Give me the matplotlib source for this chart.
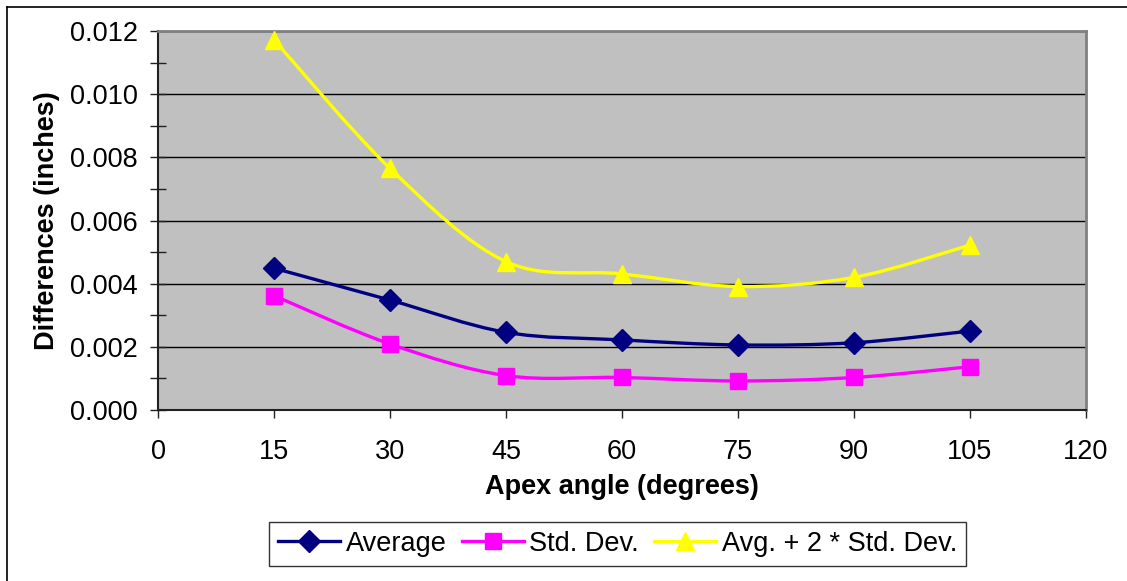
import matplotlib
matplotlib.use('Agg')
import matplotlib.pyplot as plt
from matplotlib.path import Path
from matplotlib.patches import PathPatch
from matplotlib.lines import Line2D
from matplotlib.ticker import MultipleLocator, FormatStrFormatter

plt.rcParams['font.family'] = ['Liberation Sans', 'DejaVu Sans']

angles = [15, 30, 45, 60, 75, 90, 105]
average = [0.00449, 0.00348, 0.00246, 0.00222, 0.00206, 0.00213, 0.00250]
std_dev = [0.00362, 0.00209, 0.00109, 0.00103, 0.00092, 0.00103, 0.00137]
avg_2sd = [0.01172, 0.00765, 0.00470, 0.00431, 0.00391, 0.00420, 0.00522]

series_names = ['Average', 'Std. Dev.', 'Avg. + 2 * Std. Dev.']


def smooth_path(xs, ys):
    # cubic bezier through every point, catmull-rom style tangents
    pts = list(zip(xs, ys))
    n = len(pts)
    verts = [pts[0]]
    codes = [Path.MOVETO]
    for i in range(n - 1):
        p0 = pts[i - 1] if i > 0 else pts[i]
        p1 = pts[i]
        p2 = pts[i + 1]
        p3 = pts[i + 2] if i + 2 < n else pts[i + 1]
        c1 = (p1[0] + (p2[0] - p0[0]) / 6, p1[1] + (p2[1] - p0[1]) / 6)
        c2 = (p2[0] - (p3[0] - p1[0]) / 6, p2[1] - (p3[1] - p1[1]) / 6)
        verts += [c1, c2, p2]
        codes += [Path.CURVE4] * 3
    return Path(verts, codes)


fs = 19.5

fig = plt.figure(figsize=(11.27, 5.81), dpi=100)
ax = fig.add_axes([0.1402, 0.2943, 0.8234, 0.6523])
ax.set_facecolor('#C0C0C0')

styles = [
    dict(color='#000080', marker='D', ms=11),
    dict(color='#FF00FF', marker='s', ms=12),
    dict(color='#FFFF00', marker='^', ms=13),
]

handles = []
for ys, st, name in zip([average, std_dev, avg_2sd], styles, series_names):
    ax.add_patch(PathPatch(smooth_path(angles, ys), fill=False,
                           edgecolor=st['color'], lw=2.4, zorder=3))
    ax.plot(angles, ys, linestyle='none', marker=st['marker'], ms=st['ms'],
            color=st['color'], mec=st['color'], zorder=4)
    handles.append(Line2D([], [], color=st['color'], lw=2.4,
                          marker=st['marker'], ms=st['ms'],
                          mec=st['color'], label=name))

ax.set_xlim(0, 120)
ax.set_ylim(0, 0.012)
ax.xaxis.set_major_locator(MultipleLocator(15))
ax.yaxis.set_major_locator(MultipleLocator(0.002))
ax.yaxis.set_minor_locator(MultipleLocator(0.001))
ax.yaxis.set_major_formatter(FormatStrFormatter('%.3f'))

ax.grid(axis='y', which='major', color='black', lw=1.0, zorder=1)
ax.set_axisbelow(True)

for side in ['top', 'right']:
    ax.spines[side].set_color('#808080')
    ax.spines[side].set_linewidth(2.0)
for side in ['left', 'bottom']:
    ax.spines[side].set_color('#202020')
    ax.spines[side].set_linewidth(1.5)

ax.tick_params(axis='x', direction='out', length=6, width=1, labelsize=fs,
               pad=15, colors='#202020', labelcolor='black')
ax.tick_params(axis='y', which='both', direction='inout', length=11, width=1,
               labelsize=fs, pad=9, colors='#202020', labelcolor='black')

ax.set_xlabel('Apex angle (degrees)', fontsize=fs, fontweight='bold', labelpad=6)
ax.set_ylabel('Differences (inches)', fontsize=fs, fontweight='bold', labelpad=7)

leg = fig.legend(handles=handles, loc='center', bbox_to_anchor=(0.548, 0.064),
                 ncol=3, fontsize=fs, frameon=True, fancybox=False,
                 edgecolor='black', handlelength=2.3, handletextpad=0.2,
                 columnspacing=0.55, borderpad=0.33, borderaxespad=0)
leg.get_frame().set_linewidth(1.0)

# chart area border (only top and left edges fall inside the image)
x0, y0 = 7 / 1127, 1 - 7 / 581
fig.add_artist(Line2D([x0, x0], [0, y0], color='black', lw=1.2))
fig.add_artist(Line2D([x0, 1], [y0, y0], color='black', lw=1.2))

fig.savefig('out.png', dpi=100)
